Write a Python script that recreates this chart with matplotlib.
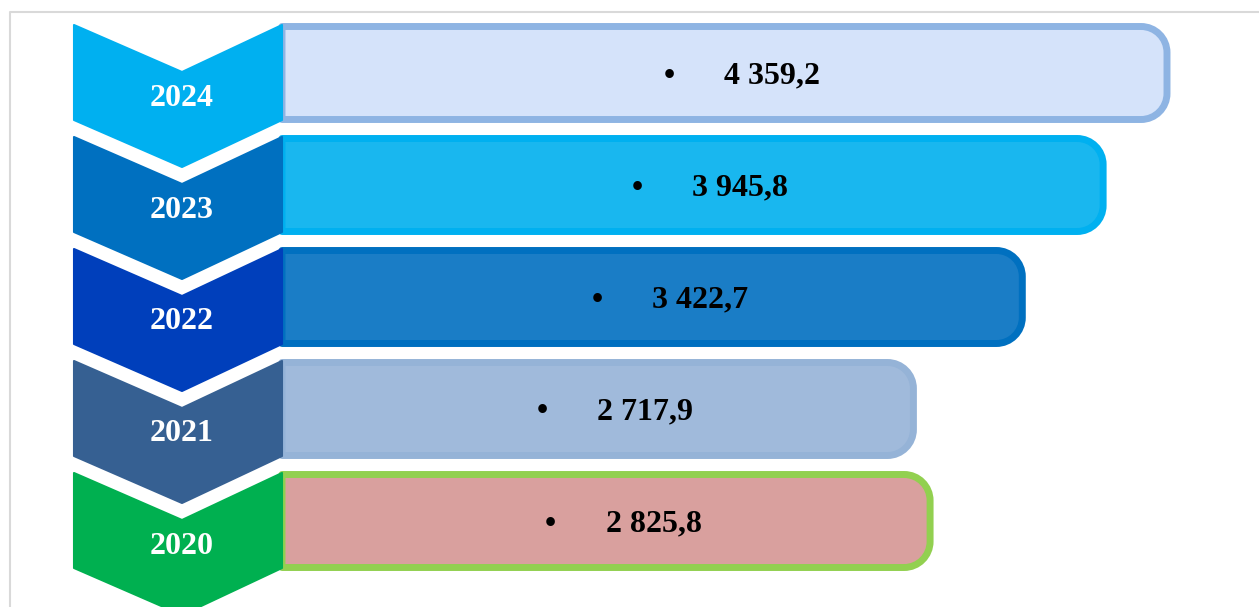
import matplotlib.pyplot as plt
from matplotlib.patches import PathPatch, Polygon
from matplotlib.path import Path
from matplotlib.lines import Line2D

# Data
years = ['2024', '2023', '2022', '2021', '2020']
values = [4359.2, 3945.8, 3422.7, 2717.9, 2825.8]

# Styling
chevron_colors = ['#00b0f0', '#0070c0', '#003fbb', '#366092', '#00b050']
bar_fills = ['#d5e3fa', '#19b7ef', '#1a7dc6', '#a0badb', '#d9a09e']
bar_edges = ['#8eb4e3', '#00b0f0', '#0070c0', '#95b3d7', '#92d050']

W, H = 1259, 607
fig = plt.figure(figsize=(W / 100, H / 100), dpi=100)
ax = fig.add_axes([0, 0, 1, 1])
ax.axis('off')

# value axis: x in value units, y in rows (0 = top row)
x_scale = 0.1545        # px per value unit
x_off = 497.0           # px position of value 0
row_px = 112.0          # px per row
row0_px = 73.0          # px centre of first row
ax.set_xlim(-x_off / x_scale, (W - x_off) / x_scale)
ax.set_ylim((H - row0_px) / row_px, -row0_px / row_px)

XPX = 1 / x_scale   # value units per px
YPX = 1 / row_px    # rows per px
bar_base = (282 - x_off) / x_scale
x_left = -x_off / x_scale


def bar_path(x0, x1, yc, h, rx, ry):
    k = 0.5523
    top, bot = yc - h / 2, yc + h / 2
    verts = [(x0, top), (x1 - rx, top),
             (x1 - rx + k * rx, top), (x1, top + ry - k * ry), (x1, top + ry),
             (x1, bot - ry),
             (x1, bot - ry + k * ry), (x1 - rx + k * rx, bot), (x1 - rx, bot),
             (x0, bot), (x0, top)]
    codes = [Path.MOVETO, Path.LINETO,
             Path.CURVE4, Path.CURVE4, Path.CURVE4,
             Path.LINETO,
             Path.CURVE4, Path.CURVE4, Path.CURVE4,
             Path.LINETO, Path.CLOSEPOLY]
    return Path(verts, codes)


for i, (yr, v) in enumerate(zip(years, values)):
    # rounded bar (outer edge ends at the value)
    p = bar_path(bar_base, v - 3.5 * XPX, i, 93 * YPX, 26 * XPX, 26 * YPX)
    ax.add_patch(PathPatch(p, facecolor=bar_fills[i], edgecolor=bar_edges[i],
                           linewidth=5, joinstyle='round', zorder=2))
    # value label with bullet
    xc = (bar_base + v) / 2
    label = f'{v:,.1f}'.replace(',', ' ').replace('.', ',')
    ax.text(xc - 57 * XPX, i + 3 * YPX, '•', ha='center', va='center',
            fontsize=23, fontweight='bold', family='Liberation Serif', zorder=4)
    ax.text(xc - 2 * XPX, i + 3 * YPX, label, ha='left', va='center',
            fontsize=23, fontweight='bold', family='Liberation Serif', zorder=4)

    # chevron with year
    xl, xm, xr = x_left + 74 * XPX, x_left + 182 * XPX, bar_base
    pts = [(xl, i - 48 * YPX), (xm, i - 1 * YPX), (xr, i - 48 * YPX),
           (xr, i + 47 * YPX), (xm, i + 94 * YPX), (xl, i + 47 * YPX)]
    ax.add_patch(Polygon(pts, closed=True, facecolor=chevron_colors[i],
                         edgecolor=chevron_colors[i], linewidth=1.5,
                         joinstyle='round', zorder=3))
    ax.text(xm, i + 25 * YPX, yr, ha='center', va='center', color='white',
            fontsize=23, fontweight='bold', family='Liberation Serif', zorder=4)

# light frame around the slide
fig.add_artist(Line2D([10 / W, 10 / W, 1], [0, 1 - 12 / H, 1 - 12 / H],
                      color='#d9d9d9', linewidth=1.5))

fig.savefig('out.png', dpi=100)
